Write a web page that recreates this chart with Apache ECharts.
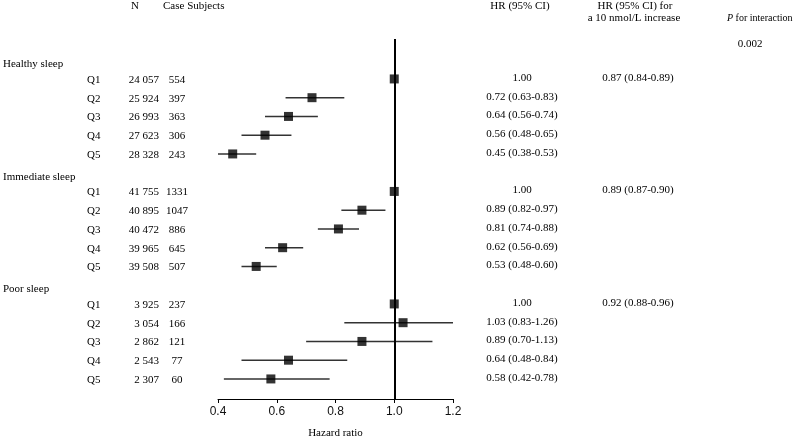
<!DOCTYPE html>
<html>
<head>
<meta charset="utf-8">
<script src="https://cdn.jsdelivr.net/npm/echarts@6/dist/echarts.min.js"></script>
<style>
html,body{margin:0;padding:0;background:#fff;}
#chart{width:793px;height:438px;}
</style>
</head>
<body>
<div id="chart"></div>
<script>
// ---- data ----
const groups = ['Healthy sleep', 'Immediate sleep', 'Poor sleep'];
const quintiles = ['Q1', 'Q2', 'Q3', 'Q4', 'Q5'];

const nHealthy = ['24 057', '25 924', '26 993', '27 623', '28 328'];
const nImmediate = ['41 755', '40 895', '40 472', '39 965', '39 508'];
const nPoor = ['3 925', '3 054', '2 862', '2 543', '2 307'];

const casesHealthy = ['554', '397', '363', '306', '243'];
const casesImmediate = ['1331', '1047', '886', '645', '507'];
const casesPoor = ['237', '166', '121', '77', '60'];

const hrHealthy = [1.00, 0.72, 0.64, 0.56, 0.45];
const lowHealthy = [null, 0.63, 0.56, 0.48, 0.38];
const highHealthy = [null, 0.83, 0.74, 0.65, 0.53];

const hrImmediate = [1.00, 0.89, 0.81, 0.62, 0.53];
const lowImmediate = [null, 0.82, 0.74, 0.56, 0.48];
const highImmediate = [null, 0.97, 0.88, 0.69, 0.60];

const hrPoor = [1.00, 1.03, 0.89, 0.64, 0.58];
const lowPoor = [null, 0.83, 0.70, 0.48, 0.42];
const highPoor = [null, 1.26, 1.13, 0.84, 0.78];

const trendHR = ['0.87 (0.84-0.89)', '0.89 (0.87-0.90)', '0.92 (0.88-0.96)'];
const pInteraction = '0.002';

const xTicks = [0.4, 0.6, 0.8, 1.0, 1.2];

// ---- build rows ----
const nAll = [nHealthy, nImmediate, nPoor];
const casesAll = [casesHealthy, casesImmediate, casesPoor];
const hrAll = [hrHealthy, hrImmediate, hrPoor];
const lowAll = [lowHealthy, lowImmediate, lowPoor];
const highAll = [highHealthy, highImmediate, highPoor];

const rows = [];
groups.forEach((g, gi) => {
  rows.push({ kind: 'header', gi });
  quintiles.forEach((q, qi) => rows.push({ kind: 'q', gi, qi }));
});

const pointData = [];
const ciData = [];
const textData = [];
rows.forEach((r, i) => {
  textData.push([1, i]);
  if (r.kind === 'q') {
    const hr = hrAll[r.gi][r.qi];
    pointData.push([hr, i]);
    const lo = lowAll[r.gi][r.qi], hi = highAll[r.gi][r.qi];
    if (lo != null) ciData.push([lo, i, hi]);
  }
});

function hrText(gi, qi) {
  const hr = hrAll[gi][qi], lo = lowAll[gi][qi], hi = highAll[gi][qi];
  if (lo == null) return hr.toFixed(2);
  return hr.toFixed(2) + ' (' + lo.toFixed(2) + '-' + hi.toFixed(2) + ')';
}

const FAMILY = "'Liberation Serif', 'Times New Roman', serif";
const SERIF = "11px " + FAMILY;

function txt(x, y, text, align) {
  return {
    type: 'text', x: x, y: y,
    style: { text: text, font: SERIF, fill: '#000', align: align, verticalAlign: 'middle', textAlign: align, textVerticalAlign: 'middle' }
  };
}

const chart = echarts.init(document.getElementById('chart'), null, { renderer: 'canvas' });

const option = {
  backgroundColor: '#fff',
  animation: false,
  grid: { left: 218, right: 340, top: 39, bottom: 39, containLabel: false, outerBoundsMode: 'none' },
  xAxis: {
    type: 'value', min: 0.4, max: 1.2, interval: 0.2,
    axisLine: { show: true, onZero: false, lineStyle: { color: '#000', width: 1 } },
    axisTick: { show: true, length: 4, lineStyle: { color: '#000' } },
    splitLine: { show: false },
    axisLabel: { margin: 7, color: '#111', fontFamily: "'Liberation Sans', Arial, sans-serif", fontSize: 12,
      formatter: v => v.toFixed(1) },
    name: 'Hazard ratio', nameLocation: 'middle', nameGap: 29,
    nameTextStyle: { fontFamily: FAMILY, fontSize: 11, color: '#000' }
  },
  yAxis: { type: 'value', inverse: true, min: -1.13, max: 18.07, show: false },
  series: [
    {
      type: 'custom', name: 'ci', clip: true,
      data: ciData,
      encode: { x: [0, 2], y: 1 },
      renderItem: function (params, api) {
        const a = api.coord([api.value(0), api.value(1)]);
        const b = api.coord([api.value(2), api.value(1)]);
        return { type: 'line', shape: { x1: a[0], y1: a[1], x2: b[0], y2: b[1] },
          style: { stroke: '#333', lineWidth: 1.5 } };
      },
      z: 2
    },
    {
      type: 'scatter', name: 'hr',
      data: pointData,
      symbol: 'rect', symbolSize: 9,
      itemStyle: { color: '#000' },
      z: 4,
      markLine: {
        silent: true, symbol: ['none', 'none'], label: { show: false },
        lineStyle: { color: '#000', width: 2, type: 'solid' },
        data: [{ xAxis: 1.0 }]
      }
    },
    {
      type: 'custom', name: 'table', clip: false, silent: true,
      data: textData,
      encode: { x: 0, y: 1 },
      renderItem: function (params, api) {
        const r = rows[params.dataIndex];
        const y = api.coord([1, api.value(1)])[1];
        const ch = [];
        if (r.kind === 'header') {
          ch.push(txt(3, y + 4, groups[r.gi], 'left'));
        } else {
          ch.push(txt(87, y + 1, quintiles[r.qi], 'left'));
          ch.push(txt(159, y + 1, nAll[r.gi][r.qi], 'right'));
          ch.push(txt(177, y + 1, casesAll[r.gi][r.qi], 'center'));
          ch.push(txt(522, y - 1, hrText(r.gi, r.qi), 'center'));
          if (r.qi === 0) ch.push(txt(638, y - 1, trendHR[r.gi], 'center'));
        }
        return { type: 'group', children: ch };
      },
      z: 5
    }
  ],
  graphic: [
    { type: 'text', x: 135, y: 6, style: { text: 'N', font: SERIF, fill: '#000', align: 'center', verticalAlign: 'middle', textAlign: 'center', textVerticalAlign: 'middle' } },
    { type: 'text', x: 163, y: 6, style: { text: 'Case Subjects', font: SERIF, fill: '#000', align: 'left', verticalAlign: 'middle', textAlign: 'left', textVerticalAlign: 'middle' } },
    { type: 'text', x: 520, y: 6, style: { text: 'HR (95% CI)', font: SERIF, fill: '#000', align: 'center', verticalAlign: 'middle', textAlign: 'center', textVerticalAlign: 'middle' } },
    { type: 'text', x: 635, y: 6, style: { text: 'HR (95% CI) for', font: SERIF, fill: '#000', align: 'center', verticalAlign: 'middle', textAlign: 'center', textVerticalAlign: 'middle' } },
    { type: 'text', x: 634, y: 18, style: { text: 'a 10 nmol/L increase', font: SERIF, fill: '#000', align: 'center', verticalAlign: 'middle', textAlign: 'center', textVerticalAlign: 'middle' } },
    { type: 'text', x: 727, y: 18, style: { text: '{i|P}{n| for interaction}', font: SERIF, fill: '#000', align: 'left', verticalAlign: 'middle', textAlign: 'left', textVerticalAlign: 'middle',
        rich: {
          i: { fontStyle: 'italic', fontFamily: FAMILY, fontSize: 10, fill: '#000' },
          n: { fontFamily: FAMILY, fontSize: 10, fill: '#000' }
        } } },
    { type: 'text', x: 750, y: 44, style: { text: pInteraction, font: SERIF, fill: '#000', align: 'center', verticalAlign: 'middle', textAlign: 'center', textVerticalAlign: 'middle' } }
  ]
};
chart.setOption(option);
</script>
</body>
</html>
